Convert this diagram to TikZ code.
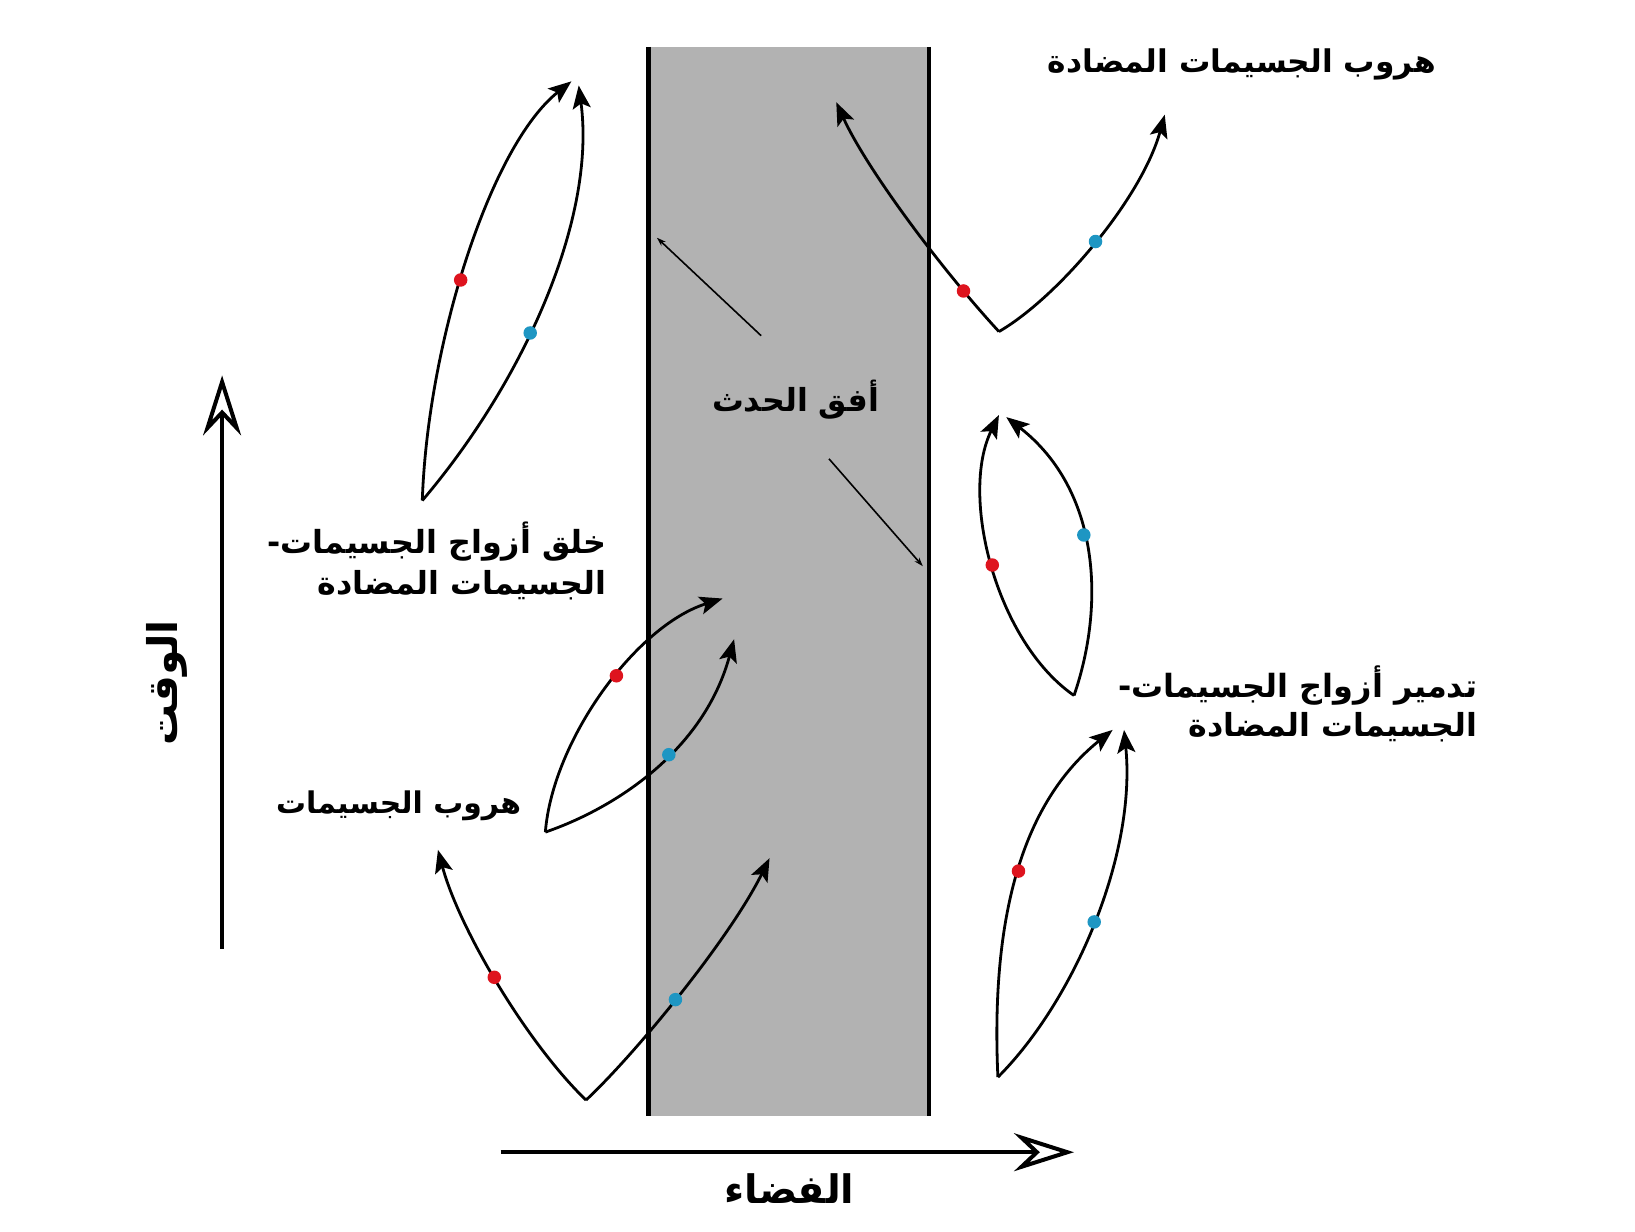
\documentclass[tikz,border=0pt]{standalone}
\usepackage{fontspec}
\usepackage{graphicx}
\TeXXeTstate=1
\newfontfamily\arabicfont[Script=Arabic]{DejaVu Sans}
\usetikzlibrary{arrows.meta}
\newcommand{\artxt}[2]{\resizebox{#1}{!}{\arabicfont\bfseries #2}}
\definecolor{bandgray}{RGB}{178,178,178}
\definecolor{pred}{RGB}{222,20,30}
\definecolor{pcyan}{RGB}{30,150,195}
\begin{document}
\begin{tikzpicture}[x=1.0427pt,y=-1.0427pt,
  traj/.style={line width=2.8pt,-{Stealth[length=23pt,width=18pt,inset=5pt]}},
  ptr/.style={line width=1.6pt,-{Stealth[length=9pt,width=6pt]}},
  axisline/.style={line width=4pt,-{Stealth[length=60pt,width=38pt,inset=20pt,fill=white]}},
  edge/.style={line width=4.5pt},
  rdot/.style={circle,fill=pred,inner sep=0pt,minimum size=13.5pt},
  cdot/.style={circle,fill=pcyan,inner sep=0pt,minimum size=13.5pt},
  lbl/.style={inner sep=0pt,text=black}]
\path[use as bounding box] (0,0) rectangle (1568,1181);
\fill[white] (0,0) rectangle (1568,1181);

% event horizon band
\fill[bandgray] (622,45) rectangle (891,1070);
\coordinate (bl0) at (622,45);
\coordinate (bl1) at (622,1070);
\coordinate (br0) at (891,45);
\coordinate (br1) at (891,1070);
\draw[edge] (bl0) -- (bl1);
\draw[edge] (br0) -- (br1);

% axes
\coordinate (t0) at (213,910);
\coordinate (t1) at (213,360);
\draw[axisline] (t0) -- (t1);
\coordinate (s0) at (480,1105);
\coordinate (s1) at (1030,1105);
\draw[axisline] (s0) -- (s1);
\node[lbl,rotate=90] (timelbl) at (160,655) {\artxt{125pt}{\beginR الوقت\endR}};
\node[lbl] (spacelbl) at (757,1140) {\artxt{130pt}{\beginR الفضاء\endR}};

% horizon label and pointers
\node[lbl] (horizon) at (763,383) {\artxt{167pt}{\beginR أفق الحدث\endR}};
\coordinate (p1s) at (730,322);
\coordinate (p1e) at (630,228);
\coordinate (p2s) at (795,440);
\coordinate (p2e) at (885,543);
\draw[ptr] (p1s) -- (p1e);
\draw[ptr] (p2s) -- (p2e);

% upper-left: creation of pairs
\coordinate (v1) at (405,480);
\draw[traj] (v1) .. controls (410,330) and (470,140) .. (548,78) node[rdot,pos=0.45] (r1) {};
\draw[traj] (v1) .. controls (502,366) and (572,210) .. (555,82) node[cdot,pos=0.42] (c1) {};
\node[lbl,anchor=east] (create1) at (582,519) {\artxt{339pt}{\beginR خلق أزواج الجسيمات-\endR}};
\node[lbl,anchor=east] (create2) at (582,561) {\artxt{289pt}{\beginR الجسيمات المضادة\endR}};

% middle-left: particle escape
\coordinate (v2) at (523,798);
\draw[traj] (v2) .. controls (530,710) and (610,600) .. (693,574) node[rdot,pos=0.56] (r2) {};
\draw[traj] (v2) .. controls (590,775) and (675,720) .. (704,613) node[cdot,pos=0.57] (c2) {};
\node[lbl,anchor=east] (escape) at (500,773) {\artxt{245pt}{\beginR هروب الجسيمات\endR}};

% bottom-left
\coordinate (v3) at (562,1055);
\draw[traj] (v3) .. controls (505,1000) and (440,890) .. (420,815) node[rdot,pos=0.52] (r3) {};
\draw[traj] (v3) .. controls (610,1010) and (700,900) .. (738,823) node[cdot,pos=0.47] (c3) {};

% upper-right: antiparticle escape
\coordinate (v4) at (958,318);
\draw[traj] (v4) .. controls (900,255) and (830,160) .. (802,98) node[rdot,pos=0.19] (r4) {};
\draw[traj] (v4) .. controls (1015,285) and (1095,190) .. (1117,110) node[cdot,pos=0.5] (c4) {};
\node[lbl] (antiesc) at (1191,62) {\artxt{388pt}{\beginR هروب الجسيمات المضادة\endR}};

% right upper lens
\coordinate (v5) at (1030,667);
\draw[traj] (v5) .. controls (955,615) and (920,475) .. (958,398) node[rdot,pos=0.5] (r5) {};
\draw[traj] (v5) .. controls (1060,580) and (1055,470) .. (965,400) node[cdot,pos=0.55] (c5) {};

% right lower lens
\coordinate (v6) at (957,1033);
\draw[traj] (v6) .. controls (950,880) and (980,770) .. (1067,700) node[rdot,pos=0.5] (r6) {};
\draw[traj] (v6) .. controls (1030,960) and (1090,820) .. (1078,700) node[cdot,pos=0.5] (c6) {};
\node[lbl,anchor=east] (destroy1) at (1417,657) {\artxt{359pt}{\beginR تدمير أزواج الجسيمات-\endR}};
\node[lbl,anchor=east] (destroy2) at (1417,697) {\artxt{289pt}{\beginR الجسيمات المضادة\endR}};
\end{tikzpicture}
\end{document}
